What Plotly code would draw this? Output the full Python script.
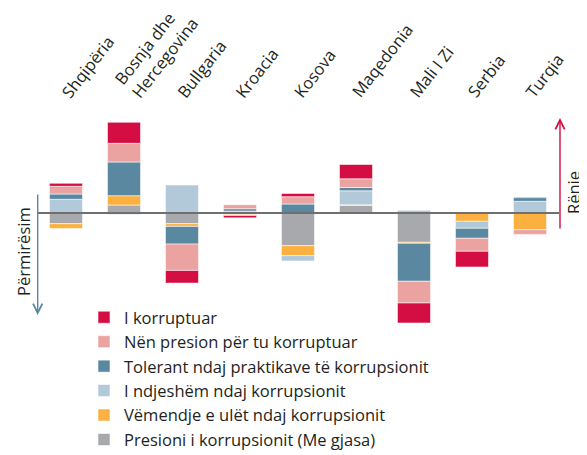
import math
import plotly.graph_objects as go

categories = ["Shqipëria", "Bosnja dhe Hercegovina", "Bullgaria", "Kroacia", "Kosova",
              "Maqedonia", "Mali I Zi", "Serbia", "Turqia"]
tick_labels = ["Shqipëria", "Bosnja dhe<br>Hercegovina", "Bullgaria", "Kroacia", "Kosova",
               "Maqedonia", "Mali I Zi", "Serbia", "Turqia"]

# change in share (arbitrary units); positive = worsening (Rënie)
presioni = [-10.7, 8.0, -10.7, -1.5, -32.7, 7.7, -29.3, 0.0, 0.0]
vemendje = [-4.7, 9.3, -2.7, -1.0, -10.0, 0.5, -1.0, -8.3, -16.7]
ndjeshem = [13.7, -1.5, 28.0, 2.0, -5.3, 14.0, 2.7, -7.0, 11.7]
tolerant = [5.3, 33.7, -17.7, 2.3, 9.0, 3.3, -38.0, -10.0, 3.7]
nen_presion = [7.7, 18.7, -26.3, 4.0, 7.3, 8.7, -21.7, -13.0, -4.7]
korruptuar = [3.0, 21.0, -12.7, -2.3, 3.3, 14.3, -20.0, -15.7, 0.7]

series = [
    ("Presioni i korrupsionit (Me gjasa)", presioni, "#A7A9AC"),
    ("Vëmendje e ulët ndaj korrupsionit", vemendje, "#FBB040"),
    ("I ndjeshëm ndaj korrupsionit", ndjeshem, "#B2C9DA"),
    ("Tolerant ndaj praktikave të korrupsionit", tolerant, "#5B88A1"),
    ("Nën presion për tu korruptuar", nen_presion, "#EBA3A2"),
    ("I korruptuar", korruptuar, "#D40E42"),
]

FONT = "Open Sans"
TXT = "#231F20"
LBL_SIZE = 16.5
ANGLE = 52

fig = go.Figure()
for i, (name, vals, col) in enumerate(series):
    fig.add_trace(go.Bar(
        x=categories, y=vals, name=name, legendgroup=str(i),
        marker=dict(color=col, line=dict(color="rgba(255,255,255,0.55)", width=1)),
        width=0.57,
    ))

# the page body adds an 8px margin, so the figure is 8px smaller than the window
fig.update_layout(
    width=579, height=447,
    barmode="relative",
    plot_bgcolor="white", paper_bgcolor="white",
    margin=dict(l=29, r=28, t=92, b=125, autoexpand=False),
    font=dict(family=FONT, size=16, color=TXT),
    xaxis=dict(range=[-0.5, 8.5], automargin=False, showticklabels=False,
               showgrid=False, zeroline=False, showline=False, ticks=""),
    yaxis=dict(range=[-117, 113], visible=False, showgrid=False, zeroline=False,
               automargin=False),
    legend=dict(traceorder="reversed", x=(84 - 37) / 522, y=(330 - 300) / 230,
                xanchor="left", yanchor="top", tracegroupgap=12,
                font=dict(size=16.5, color=TXT), bgcolor="rgba(0,0,0,0)"),
    showlegend=True,
)

# rotated category labels above the bars
s = math.sin(math.radians(ANGLE))
for cat, lbl in zip(categories, tick_labels):
    n = lbl.count("<br>") + 1
    h = 22.5 + 21.45 * (n - 1) + 2
    dx = 7 - 0.3 - h * s + (11.5 if n > 1 else 0)
    fig.add_annotation(xref="x", yref="paper", x=cat, y=1, text=lbl,
                       textangle=-ANGLE, xanchor="left", yanchor="bottom",
                       align="left", xshift=dx, yshift=-5, showarrow=False,
                       font=dict(size=LBL_SIZE, color=TXT))

# baseline
fig.add_shape(type="line", xref="x", yref="y", x0=-0.5, x1=8.5, y0=0, y1=0,
              line=dict(color="#6F6F6F", width=1.8), layer="above")

# arrows
fig.add_annotation(xref="paper", yref="paper", x=(37.7 - 37) / 522, y=(330 - 315) / 230,
                   ax=0, ay=-122, text="", showarrow=True, arrowhead=5, arrowsize=1.3,
                   arrowwidth=1.4, arrowcolor="#5B88A1")
fig.add_annotation(xref="paper", yref="paper", x=(560 - 37) / 522, y=(330 - 118) / 230,
                   ax=0, ay=112, text="", showarrow=True, arrowhead=5, arrowsize=1.3,
                   arrowwidth=1.4, arrowcolor="#D40E42")
fig.add_annotation(xref="paper", yref="paper", x=(23 - 37) / 522, y=(330 - 252) / 230,
                   xanchor="center", yanchor="middle",
                   text="Përmirësim", textangle=-90, showarrow=False,
                   font=dict(size=16.5, color=TXT))
fig.add_annotation(xref="paper", yref="paper", x=(573 - 37) / 522, y=(330 - 193) / 230,
                   xanchor="center", yanchor="middle",
                   text="Rënie", textangle=-90, showarrow=False,
                   font=dict(size=16.5, color=TXT))

fig.write_html("out.html")
